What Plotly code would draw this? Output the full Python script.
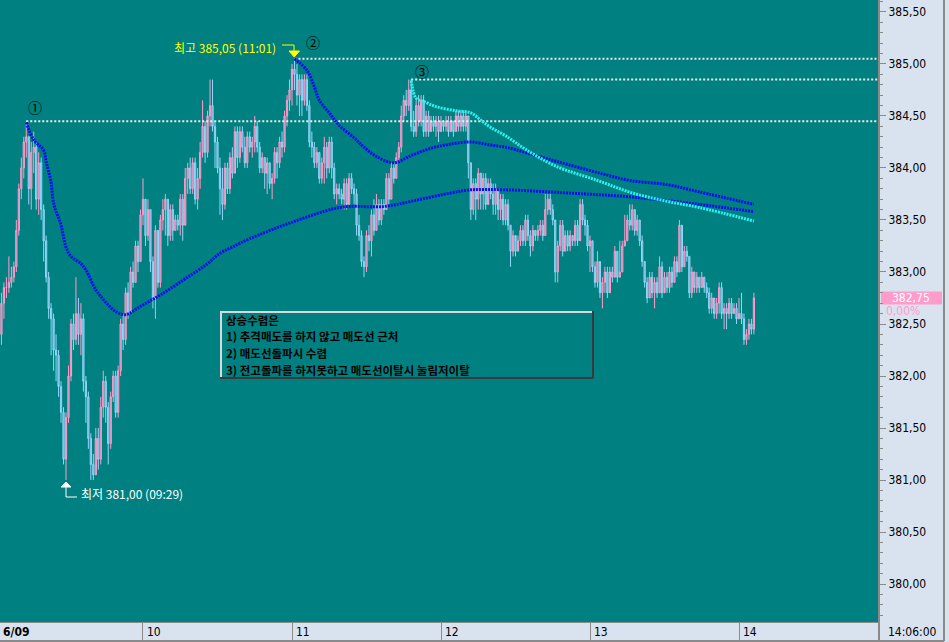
import plotly.graph_objects as go

# ---------------- data (1-minute bars, minutes after 09:00 -> 09:01 .. 14:06) ----------------
minutes = list(range(1, 307))
first_open = 382.60

close = [
    382.50, 382.40, 382.70, 382.85, 382.85, 382.90, 382.95, 383.05, 383.40, 383.80,
    384.00, 384.25, 384.30, 383.80, 384.15, 384.20, 383.70, 384.05, 383.60, 383.30,
    382.95, 382.65, 382.55, 382.25, 382.20, 381.90, 381.65, 381.20, 381.60, 382.00,
    382.50, 382.35, 382.60, 382.40, 382.55, 381.95, 381.80, 381.40, 381.15, 381.05,
    381.40, 381.20, 381.70, 381.95, 381.70, 381.35, 381.80, 382.00, 381.65, 382.05,
    382.50, 382.35, 382.80, 382.60, 383.00, 382.90, 383.25, 383.10, 383.55, 383.70,
    383.35, 383.60, 383.10, 382.75, 383.40, 382.90, 383.50, 383.60, 383.70, 383.35,
    383.60, 383.40, 383.50, 383.45, 383.70, 383.45, 383.90, 384.00, 383.80, 384.05,
    383.70, 383.90, 384.15, 384.40, 384.15, 384.50, 384.60, 384.40, 384.25, 384.00,
    383.80, 383.65, 384.00, 383.80, 384.10, 383.95, 384.35, 384.10, 384.35, 384.20,
    384.05, 384.30, 384.20, 384.25, 384.40, 384.20, 384.00, 384.10, 383.95, 384.05,
    383.85, 383.90, 384.15, 384.05, 384.25, 384.20, 384.50, 384.65, 384.75, 384.95,
    384.90, 384.70, 384.85, 384.65, 384.85, 384.60, 384.25, 384.20, 384.05, 384.15,
    383.90, 384.05, 384.20, 384.00, 384.25, 384.00, 383.75, 383.80, 383.75, 383.70,
    383.85, 383.65, 383.90, 383.80, 383.75, 383.45, 383.35, 383.10, 383.05, 383.35,
    383.30, 383.55, 383.40, 383.65, 383.50, 383.65, 383.60, 383.90, 383.70, 384.00,
    383.90, 384.10, 384.20, 384.50, 384.65, 384.60, 384.75, 384.40, 384.35, 384.60,
    384.45, 384.65, 384.35, 384.50, 384.35, 384.45, 384.40, 384.45, 384.35, 384.45,
    384.40, 384.45, 384.35, 384.45, 384.35, 384.50, 384.40, 384.50, 384.40, 384.50,
    384.05, 383.60, 383.85, 383.70, 383.95, 383.75, 383.90, 383.65, 383.85, 383.75,
    383.65, 383.80, 383.60, 383.70, 383.50, 383.65, 383.45, 383.20, 383.35, 383.20,
    383.30, 383.40, 383.30, 383.50, 383.35, 383.25, 383.40, 383.35, 383.40, 383.45,
    383.35, 383.60, 383.70, 383.60, 383.50, 383.00, 383.25, 383.45, 383.20, 383.35,
    383.25, 383.35, 383.30, 383.45, 383.30, 383.65, 383.50, 383.45, 383.25, 383.30,
    383.05, 382.90, 383.10, 382.80, 382.90, 383.00, 382.80, 383.00, 382.95, 383.20,
    382.95, 383.00, 383.25, 383.30, 383.50, 383.45, 383.60, 383.40, 383.50, 383.30,
    383.10, 382.90, 382.75, 382.95, 382.80, 382.90, 382.80, 383.05, 382.80, 382.95,
    382.85, 383.00, 382.90, 383.10, 383.00, 383.45, 383.05, 383.20, 383.15, 382.80,
    383.00, 382.85, 382.95, 382.85, 382.95, 382.85, 382.80, 382.65, 382.75, 382.60,
    382.70, 382.85, 382.60, 382.65, 382.60, 382.70, 382.60, 382.65, 382.55, 382.60,
    382.55, 382.35, 382.40, 382.50, 382.45, 382.75,
]

high = [
    382.85, 382.55, 382.80, 382.90, 382.95, 383.15, 383.05, 383.10, 383.50, 383.85,
    384.10, 384.30, 384.45, 384.30, 384.25, 384.35, 384.25, 384.15, 384.10, 383.65,
    383.35, 383.00, 382.70, 382.60, 382.40, 382.25, 381.95, 381.70, 381.65, 382.10,
    382.55, 382.60, 382.95, 382.75, 382.70, 382.60, 382.00, 381.85, 381.45, 381.25,
    381.50, 381.50, 381.80, 382.05, 382.00, 381.75, 381.85, 382.05, 382.05, 382.10,
    382.55, 382.60, 382.85, 382.90, 383.05, 383.10, 383.30, 383.30, 383.60, 383.90,
    383.70, 383.70, 383.60, 383.15, 383.45, 383.40, 383.55, 383.70, 383.75, 383.70,
    383.65, 383.65, 383.55, 383.55, 383.75, 383.75, 384.00, 384.05, 384.10, 384.10,
    384.10, 384.00, 384.25, 384.65, 384.45, 384.55, 384.85, 384.85, 384.45, 384.30,
    384.10, 384.00, 384.05, 384.05, 384.15, 384.20, 384.40, 384.40, 384.40, 384.40,
    384.30, 384.35, 384.35, 384.30, 384.50, 384.45, 384.25, 384.15, 384.10, 384.10,
    384.05, 383.95, 384.20, 384.20, 384.30, 384.35, 384.55, 384.70, 384.85, 385.00,
    385.05, 385.00, 384.90, 384.90, 384.90, 384.90, 384.65, 384.35, 384.25, 384.20,
    384.15, 384.10, 384.30, 384.25, 384.30, 384.30, 384.05, 383.85, 383.85, 383.80,
    383.90, 383.90, 383.95, 383.95, 383.85, 383.80, 383.55, 383.40, 383.15, 383.40,
    383.45, 383.60, 383.70, 383.75, 383.70, 383.70, 383.70, 383.95, 383.95, 384.05,
    384.05, 384.15, 384.25, 384.60, 384.70, 384.75, 384.85, 384.85, 384.55, 384.65,
    384.70, 384.70, 384.70, 384.55, 384.55, 384.50, 384.50, 384.50, 384.50, 384.50,
    384.45, 384.50, 384.50, 384.50, 384.45, 384.55, 384.55, 384.55, 384.55, 384.55,
    384.50, 384.05, 383.90, 383.90, 384.00, 383.95, 383.95, 383.95, 383.90, 383.90,
    383.85, 383.85, 383.80, 383.75, 383.75, 383.70, 383.70, 383.45, 383.40, 383.30,
    383.35, 383.45, 383.45, 383.55, 383.55, 383.40, 383.45, 383.40, 383.45, 383.50,
    383.50, 383.75, 383.75, 383.75, 383.65, 383.50, 383.30, 383.50, 383.50, 383.40,
    383.40, 383.40, 383.35, 383.50, 383.50, 383.70, 383.70, 383.55, 383.50, 383.35,
    383.30, 383.10, 383.20, 383.05, 382.95, 383.05, 383.05, 383.05, 383.05, 383.25,
    383.20, 383.30, 383.30, 383.55, 383.55, 383.65, 383.65, 383.60, 383.55, 383.50,
    383.35, 383.10, 382.95, 383.00, 383.00, 382.95, 382.95, 383.15, 383.10, 383.00,
    383.00, 383.05, 383.05, 383.15, 383.15, 383.50, 383.45, 383.25, 383.25, 383.15,
    383.05, 383.00, 383.00, 382.95, 383.00, 382.95, 382.90, 382.85, 382.80, 382.75,
    382.75, 382.90, 382.90, 382.70, 382.70, 382.75, 382.75, 382.70, 382.70, 382.75,
    382.80, 382.60, 382.45, 382.55, 382.55, 382.80,
]

low = [
    382.30, 381.55, 382.30, 382.55, 382.75, 382.80, 382.85, 382.90, 383.00, 383.35,
    383.70, 383.90, 384.10, 383.65, 383.60, 383.95, 383.60, 383.55, 383.50, 383.10,
    382.90, 382.55, 382.20, 382.05, 381.95, 381.80, 381.55, 381.15, 381.00, 381.55,
    381.95, 382.25, 382.30, 382.30, 382.20, 381.85, 381.55, 381.30, 381.00, 381.00,
    381.05, 381.10, 381.15, 381.60, 381.55, 381.15, 381.30, 381.75, 381.60, 381.60,
    382.00, 382.25, 382.30, 382.55, 382.60, 382.85, 382.90, 383.00, 383.10, 383.45,
    383.25, 383.30, 383.00, 382.65, 382.55, 382.85, 382.85, 383.40, 383.35, 383.25,
    383.30, 383.30, 383.40, 383.40, 383.35, 383.30, 383.45, 383.75, 383.75, 383.75,
    383.65, 383.60, 383.80, 384.10, 384.05, 384.10, 384.40, 384.35, 384.00, 383.95,
    383.55, 383.50, 383.60, 383.75, 383.75, 383.90, 383.95, 384.00, 384.05, 384.15,
    384.00, 384.00, 384.15, 384.10, 384.15, 384.15, 383.95, 383.95, 383.80, 383.75,
    383.80, 383.70, 383.85, 383.90, 384.00, 384.10, 384.15, 384.40, 384.55, 384.60,
    384.75, 384.60, 384.50, 384.50, 384.60, 384.55, 384.20, 384.10, 384.00, 384.00,
    383.85, 383.85, 383.85, 383.90, 383.95, 383.90, 383.70, 383.65, 383.70, 383.65,
    383.60, 383.60, 383.65, 383.75, 383.65, 383.35, 383.30, 383.05, 382.95, 383.00,
    383.20, 383.15, 383.35, 383.40, 383.45, 383.45, 383.55, 383.60, 383.65, 383.70,
    383.85, 383.90, 384.05, 384.15, 384.45, 384.50, 384.55, 384.35, 384.30, 384.30,
    384.40, 384.40, 384.30, 384.30, 384.30, 384.35, 384.35, 384.30, 384.25, 384.35,
    384.35, 384.35, 384.30, 384.35, 384.30, 384.35, 384.35, 384.35, 384.35, 384.35,
    383.90, 383.50, 383.55, 383.50, 383.60, 383.60, 383.60, 383.60, 383.70, 383.70,
    383.55, 383.55, 383.50, 383.50, 383.45, 383.45, 383.40, 383.05, 383.15, 383.15,
    383.20, 383.25, 383.25, 383.25, 383.30, 383.15, 383.20, 383.30, 383.30, 383.35,
    383.30, 383.35, 383.55, 383.55, 383.45, 382.90, 382.90, 383.20, 383.15, 383.20,
    383.20, 383.20, 383.25, 383.25, 383.25, 383.30, 383.45, 383.35, 383.20, 383.00,
    383.00, 382.85, 382.85, 382.75, 382.65, 382.80, 382.75, 382.95, 382.90, 382.95,
    382.90, 382.95, 383.00, 383.25, 383.30, 383.40, 383.40, 383.35, 383.35, 383.25,
    383.05, 382.85, 382.70, 382.75, 382.75, 382.65, 382.75, 382.80, 382.75, 382.85,
    382.80, 382.80, 382.85, 382.90, 382.95, 383.00, 383.00, 383.05, 383.10, 382.75,
    382.75, 382.80, 382.80, 382.80, 382.85, 382.80, 382.75, 382.60, 382.60, 382.55,
    382.55, 382.60, 382.55, 382.45, 382.45, 382.55, 382.55, 382.60, 382.50, 382.55,
    382.50, 382.30, 382.30, 382.35, 382.40, 382.40,
]

open_ = [first_open] + close[:-1]

# trailing "sell lines" (dotted), sampled minute / price
line_a_t = [13, 16, 20, 21, 23, 24, 27, 29, 31, 35, 37, 41, 45, 49, 53, 59, 67, 78, 86, 91,
            96, 103, 119, 137, 143, 157, 170, 184, 192, 206, 231, 257, 284, 306]
line_a_v = [384.44, 384.27, 384.17, 384.06, 383.86, 383.66, 383.45, 383.24, 383.15, 383.08,
            383.02, 382.83, 382.71, 382.62, 382.59, 382.67, 382.78, 382.95, 383.08, 383.18,
            383.24, 383.32, 383.47, 383.61, 383.63, 383.63, 383.69, 383.76, 383.79, 383.79,
            383.76, 383.72, 383.65, 383.58]
line_b_t = [121, 126, 129, 131, 135, 139, 145, 149, 154, 161, 168, 176, 184, 192, 200, 206,
            224, 244, 256, 271, 284, 306]
line_b_v = [385.05, 384.94, 384.78, 384.65, 384.53, 384.41, 384.29, 384.20, 384.11, 384.05,
            384.12, 384.19, 384.23, 384.25, 384.22, 384.20, 384.08, 383.95, 383.88, 383.84,
            383.77, 383.65]
line_c_t = [168, 170, 173, 178, 186, 192, 196, 200, 206, 214, 226, 243, 257, 271, 284, 306]
line_c_v = [384.84, 384.67, 384.64, 384.59, 384.55, 384.53, 384.46, 384.39, 384.31, 384.18,
            384.02, 383.88, 383.76, 383.68, 383.62, 383.49]

# reference highs (dotted white), marker labels
ref_start = [13, 121, 168]
ref_level = [384.45, 385.05, 384.85]
ref_label = ["①", "②", "③"]
ref_label_t = [16.5, 128.5, 172.4]
ref_label_p = [384.59, 385.21, 384.93]

# axes
x_range = [2.42, 355.97]
y_range = [379.635, 385.615]
y_ticks = [380.0, 380.5, 381.0, 381.5, 382.0, 382.5, 383.0, 383.5, 384.0, 384.5, 385.0, 385.5]
y_tick_text = ["380,00", "380,50", "381,00", "381,50", "382,00", "382,50",
               "383,00", "383,50", "384,00", "384,50", "385,00", "385,50"]
x_ticks = [60, 120, 180, 240, 300]
x_tick_text = ["10", "11", "12", "13", "14"]
date_label = "6/09"
last_time = "14:06:00"
change_text = "0,00%"
box_lines = ["상승수렴은",
             "1) 추격매도를 하지 않고 매도선 근처",
             "2) 매도선돌파시 수렴",
             "3) 전고돌파를 하지못하고 매도선이탈시 눌림저이탈"]

# ---------------- figure ----------------
TEAL = "#008080"
PANEL = "#d8e3ef"
GRAY = "#8a8a8a"
NUMFONT = "Liberation Sans Narrow, Arial Narrow, DejaVu Sans Condensed, Liberation Sans, sans-serif"
KFONT = "Noto Sans CJK KR, sans-serif"
PW, PH = 878.0, 622.0


def px(x):
    return x / PW


def py(y):
    return 1 - y / PH


def fmt(v):
    return f"{v:.2f}".replace(".", ",")


def hm(m):
    return f"{9 + m // 60:02d}:{m % 60:02d}"


fig = go.Figure()

for s, lv in zip(ref_start, ref_level):
    fig.add_trace(go.Scatter(x=[s, x_range[1]], y=[lv, lv], mode="lines",
                             line=dict(color="#f0f0f0", width=2, dash="2px,2px"),
                             hoverinfo="skip"))

fig.add_trace(go.Candlestick(
    x=minutes, open=open_, high=high, low=low, close=close,
    increasing=dict(line=dict(color="#ff9ccc", width=1), fillcolor="#a08cb6"),
    decreasing=dict(line=dict(color="#8fd8fa", width=1), fillcolor="#8a96bc"),
    whiskerwidth=0, hoverinfo="skip"))

fig.add_trace(go.Scatter(x=line_a_t, y=line_a_v, mode="lines", line_shape="spline",
                         line=dict(color="#0c0cf0", width=3, dash="2px,1px"), hoverinfo="skip"))
fig.add_trace(go.Scatter(x=line_b_t, y=line_b_v, mode="lines", line_shape="spline",
                         line=dict(color="#0c0cf0", width=3, dash="2px,1px"), hoverinfo="skip"))
fig.add_trace(go.Scatter(x=line_c_t, y=line_c_v, mode="lines", line_shape="spline",
                         line=dict(color="#2ef2f2", width=3, dash="2px,1px"), hoverinfo="skip"))

ann = []
for lab, t, p in zip(ref_label, ref_label_t, ref_label_p):
    ann.append(dict(x=t, y=p, xref="x", yref="y", text=lab, showarrow=False,
                    font=dict(family=KFONT, size=14, color="black")))

# high / low labels
hi_i = max(range(len(high)), key=lambda k: high[k])
lo_i = min(range(len(low)), key=lambda k: low[k])
ann.append(dict(x=px(278), y=py(47), xref="paper", yref="paper", xanchor="right",
                yanchor="middle", showarrow=False,
                text=f"최고 {fmt(high[hi_i])} ({hm(minutes[hi_i])})",
                font=dict(family=KFONT, size=12, color="#ffff00")))
ann.append(dict(x=px(79), y=py(493), xref="paper", yref="paper", xanchor="left",
                yanchor="middle", showarrow=False,
                text=f"최저 {fmt(low[lo_i])} ({hm(minutes[lo_i])})",
                font=dict(family=KFONT, size=12, color="white")))

# info box text
for line, yc in zip(box_lines, [319.5, 336.3, 353.1, 369.9]):
    ann.append(dict(x=px(225), y=py(yc), xref="paper", yref="paper", xanchor="left",
                    yanchor="middle", showarrow=False, text=line, borderpad=0,
                    font=dict(family=KFONT, size=11.5, color="black", weight="bold")))

# bottom axis labels
ann.append(dict(x=px(1), y=py(632), xref="paper", yref="paper", xanchor="left",
                yanchor="middle", showarrow=False, text=f"<b>{date_label}</b>",
                font=dict(family=NUMFONT, size=12, color="black")))
for t, lab in zip(x_ticks, x_tick_text):
    ann.append(dict(x=t, y=py(632), xref="x", yref="paper", xanchor="left", xshift=2,
                    yanchor="middle", showarrow=False, text=lab,
                    font=dict(family=NUMFONT, size=12, color="black")))
ann.append(dict(x=px(912), y=py(632), xref="paper", yref="paper", xanchor="center",
                yanchor="middle", showarrow=False, text=last_time,
                font=dict(family=NUMFONT, size=12, color="black")))

# last price tag
last = close[-1]
ann.append(dict(x=px(911), y=last, xref="paper", yref="y", xanchor="center",
                yanchor="middle", showarrow=False, text=fmt(last),
                font=dict(family=NUMFONT, size=12, color="white")))
ann.append(dict(x=px(884), y=py(311), xref="paper", yref="paper", xanchor="left",
                yanchor="middle", showarrow=False, text=change_text,
                font=dict(family=NUMFONT, size=12, color="#ff9ccc")))

shapes = []
# price tag box
shapes.append(dict(type="rect", xref="paper", yref="paper", x0=px(881), x1=px(942),
                   y0=py(304.5), y1=py(291.5), fillcolor="#ff9ccc", line=dict(width=0),
                   layer="below"))
# info box
BT, BB = 311, 378
shapes.append(dict(type="rect", xref="paper", yref="paper", x0=px(220), x1=px(593),
                   y0=py(BB), y1=py(BT), fillcolor=TEAL, line=dict(width=0), layer="above"))
for x0, y0, x1, y1, c in [(220, BT + 1, 593, BT + 1, "#d8d8d8"), (221, BT, 221, BB, "#d8d8d8"),
                          (220, BB, 593, BB, "#3a3a3a"), (593, BT, 593, BB, "#3a3a3a")]:
    shapes.append(dict(type="line", xref="paper", yref="paper", x0=px(x0), x1=px(x1),
                       y0=py(y0), y1=py(y1), line=dict(color=c, width=2), layer="above"))
# yellow bent arrow to high
shapes.append(dict(type="path", xref="paper", yref="paper",
                   path=f"M {px(282)},{py(45)} L {px(294)},{py(45)} L {px(294)},{py(52)}",
                   line=dict(color="#ffff00", width=1)))
shapes.append(dict(type="path", xref="paper", yref="paper",
                   path=f"M {px(289)},{py(51)} L {px(299.5)},{py(51)} L {px(294.2)},{py(57)} Z",
                   fillcolor="#ffff00", line=dict(color="#ffff00", width=1)))
# white bent arrow to low
shapes.append(dict(type="path", xref="paper", yref="paper",
                   path=f"M {px(66)},{py(487)} L {px(66)},{py(497)} L {px(77)},{py(497)}",
                   line=dict(color="white", width=1)))
shapes.append(dict(type="path", xref="paper", yref="paper",
                   path=f"M {px(61)},{py(487)} L {px(71)},{py(487)} L {px(66)},{py(482)} Z",
                   fillcolor="white", line=dict(color="white", width=1)))
# panel borders
for x0, y0, x1, y1 in [(0, 641, 944, 641), (944, 0, 944, 641), (879, 622, 879, 641)]:
    shapes.append(dict(type="line", xref="paper", yref="paper", x0=px(x0), x1=px(x1),
                       y0=py(y0), y1=py(y1), line=dict(color=GRAY, width=2)))

fig.update_layout(
    width=949, height=642,
    margin=dict(l=0, r=71, t=0, b=20),
    paper_bgcolor=PANEL, plot_bgcolor=TEAL,
    showlegend=False, hovermode=False,
    annotations=ann, shapes=shapes,
    xaxis=dict(range=x_range, showgrid=False, zeroline=False, tickvals=x_ticks,
               ticks="outside", ticklen=19, tickcolor=GRAY, tickwidth=1,
               showticklabels=False, showline=True, linecolor=GRAY, linewidth=1,
               rangeslider=dict(visible=False), fixedrange=True),
    yaxis=dict(side="right", range=y_range, tickmode="array", tickvals=y_ticks,
               ticktext=y_tick_text, ticks="outside", ticklen=6, tickcolor=GRAY,
               showgrid=False, zeroline=False, showline=True, linecolor=GRAY,
               linewidth=2, fixedrange=True,
               tickfont=dict(family=NUMFONT, size=12, color="black"),
               minor=dict(tickmode="linear", tick0=380, dtick=0.1, ticks="outside",
                          ticklen=3, tickcolor=GRAY, showgrid=False)),
)

fig.write_html("out.html", config=dict(displayModeBar=False),
               post_script="document.body.style.margin='0';document.body.style.overflow='hidden';")
